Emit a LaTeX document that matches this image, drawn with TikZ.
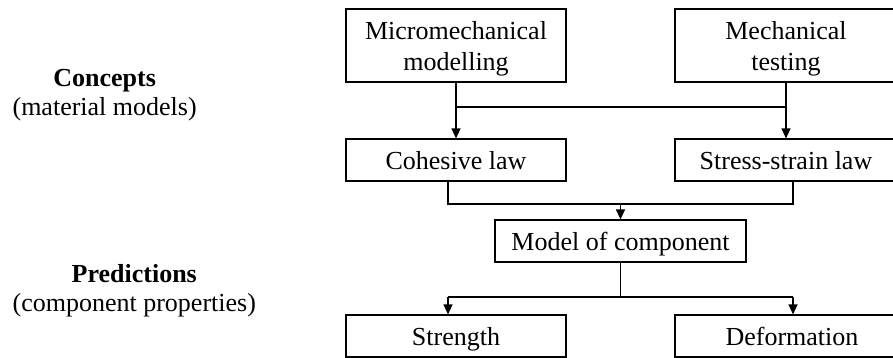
\documentclass[tikz,border=0pt]{standalone}
\usepackage{fontspec}
\setmainfont{Liberation Serif}
\usetikzlibrary{arrows.meta}
\begin{document}
\begin{tikzpicture}[x = 0.5pt, y = -0.5pt, line width = 0.6pt,
    box/.style = {draw, inner sep = 0pt, align = center, font = \fontsize{13}{15.5}\selectfont},
    tallbox/.style = {box, text depth = 0pt, minimum height = 36.5pt},
    flatbox/.style = {box, text height = 10.5pt, text depth = 1pt, minimum height = 21pt},
    sidetext/.style = {inner sep = 0pt, align = center, anchor = west, font = \fontsize{13}{14.5}\selectfont},
    arr/.style = {-{Triangle[length = 5pt, width = 4.5pt]}}]
            \clip (0, 0) rectangle (893, 358);
            \node [tallbox, minimum width = 110pt] (micro) at (456, 45.5) {Micromechanical\\modelling};
            \node [tallbox, minimum width = 111pt] (mech) at (786, 45.5) {Mechanical\\testing};
            \node [flatbox, minimum width = 110pt] (coh) at (456, 160) {Cohesive law};
            \node [flatbox, minimum width = 111pt] (ss) at (786, 160) {Stress-strain law};
            \node [flatbox, minimum width = 125.5pt] (model) at (620.5, 241) {Model of component};
            \node [flatbox, minimum width = 110pt] (strength) at (456, 336) {Strength};
            \node [flatbox, minimum width = 111pt] (deform) at (786, 336) {\hspace*{6pt}Deformation};
            \node [sidetext] (concepts) at (12, 95) {\textbf{Concepts}\\(material models)};
            \node [sidetext] (predictions) at (12, 291) {\textbf{Predictions}\\(component properties)};
            % bus lines
            \coordinate (busA) at (0, 107);
            \coordinate (busB) at (0, 204);
            \coordinate (busC) at (0, 297);
            \coordinate (xl) at (448, 0);
            \coordinate (xr) at (793, 0);
            \draw [arr] (micro) -- (coh);
            \draw [arr] (mech) -- (ss);
            \draw (micro |- busA) -- (mech |- busA);
            \draw (coh.south -| xl) |- (busB -| xr) -- (ss.south -| xr);
            \draw [arr] (busB -| model) -- (model);
            \draw (model) -- (busC -| model);
            \draw (busC -| xl) -- (busC -| xr);
            \draw [arr] (busC -| xl) -- (strength.north -| xl);
            \draw [arr] (busC -| xr) -- (deform.north -| xr);
        \end{tikzpicture}
\end{document}
